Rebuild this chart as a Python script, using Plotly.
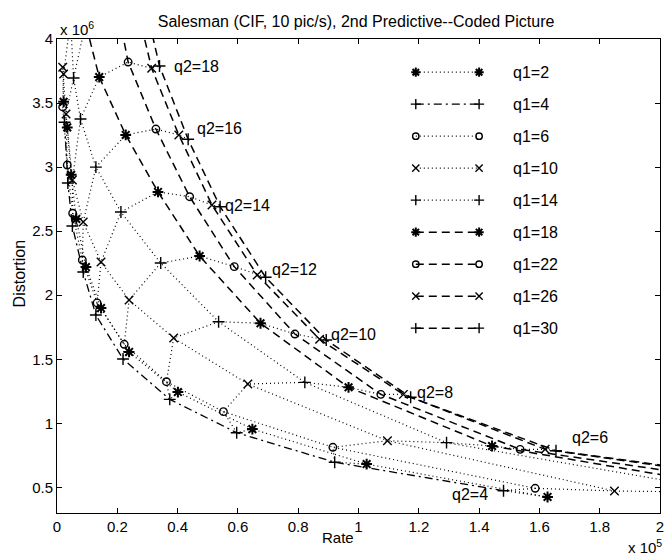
import plotly.graph_objects as go

# ---------------- data (Rate in units of 1e5, Distortion in units of 1e6) ----------------
q2_values = [4, 6, 8, 10, 12, 14, 16, 18, 20, 22, 24]
q1_values = [2, 4, 6, 10, 14, 18, 22, 26, 30]
q1_labels = ["q1=2", "q1=4", "q1=6", "q1=10", "q1=14", "q1=18", "q1=22", "q1=26", "q1=30"]

rate_q1_2 = [1.627, 1.027, 0.648, 0.401, 0.239, 0.146, 0.096, 0.064, 0.047, 0.034, 0.022]
dist_q1_2 = [0.425, 0.682, 0.955, 1.244, 1.557, 1.900, 2.220, 2.595, 2.940, 3.310, 3.510]

rate_q1_4 = [1.481, 0.921, 0.596, 0.374, 0.219, 0.129, 0.087, 0.051, 0.036, 0.025, None]
dist_q1_4 = [0.474, 0.696, 0.927, 1.187, 1.502, 1.845, 2.181, 2.540, 2.876, 3.350, None]

rate_q1_6 = [1.586, 0.915, 0.552, 0.363, 0.223, 0.133, 0.084, 0.052, 0.034, 0.019, None]
dist_q1_6 = [0.493, 0.813, 1.091, 1.325, 1.617, 1.940, 2.275, 2.640, 3.016, 3.470, None]

rate_q1_10 = [1.849, 1.096, 0.633, 0.387, 0.239, 0.146, 0.087, 0.051, 0.030, 0.022, 0.019]
dist_q1_10 = [0.472, 0.864, 1.307, 1.666, 1.963, 2.259, 2.571, 2.900, 3.414, 3.727, 3.780]

rate_q1_14 = [2.250, 1.292, 0.822, 0.536, 0.344, 0.212, 0.129, 0.078, 0.055, 0.045, None]
dist_q1_14 = [0.460, 0.849, 1.320, 1.793, 2.251, 2.649, 3.000, 3.375, 3.696, 4.150, None]

rate_q1_18 = [2.400, 1.443, 0.967, 0.675, 0.473, 0.335, 0.228, 0.140, 0.095, None, None]
dist_q1_18 = [0.440, 0.823, 1.281, 1.781, 2.306, 2.806, 3.251, 3.703, 4.120, None, None]

rate_q1_22 = [2.550, 1.536, 1.074, 0.789, 0.588, 0.440, 0.328, 0.236, 0.200, None, None]
dist_q1_22 = [0.450, 0.797, 1.226, 1.697, 2.223, 2.769, 3.297, 3.820, 4.250, None, None]

rate_q1_26 = [2.650, 1.619, 1.149, 0.871, 0.664, 0.514, 0.404, 0.314, 0.260, None, None]
dist_q1_26 = [0.450, 0.797, 1.226, 1.656, 2.158, 2.704, 3.251, 3.771, 4.300, None, None]

rate_q1_30 = [2.700, 1.655, 1.173, 0.893, 0.692, 0.541, 0.435, 0.340, 0.290, None, None]
dist_q1_30 = [0.450, 0.786, 1.203, 1.650, 2.140, 2.691, 3.217, 3.789, 4.300, None, None]

rates = [rate_q1_2, rate_q1_4, rate_q1_6, rate_q1_10, rate_q1_14,
         rate_q1_18, rate_q1_22, rate_q1_26, rate_q1_30]
dists = [dist_q1_2, dist_q1_4, dist_q1_6, dist_q1_10, dist_q1_14,
         dist_q1_18, dist_q1_22, dist_q1_26, dist_q1_30]

# q2 curve labels
q2_label_text = ["q2=4", "q2=6", "q2=8", "q2=10", "q2=12", "q2=14", "q2=16", "q2=18"]
q2_label_x = [1.304, 1.703, 1.189, 0.902, 0.707, 0.552, 0.457, 0.381]
q2_label_y = [0.448, 0.893, 1.244, 1.697, 2.204, 2.704, 3.305, 3.789]

x_ticks = [0, 0.2, 0.4, 0.6, 0.8, 1, 1.2, 1.4, 1.6, 1.8, 2]
x_ticktext = ["0", "0.2", "0.4", "0.6", "0.8", "1", "1.2", "1.4", "1.6", "1.8", "2"]
y_ticks = [0.5, 1, 1.5, 2, 2.5, 3, 3.5, 4]
y_ticktext = ["0.5", "1", "1.5", "2", "2.5", "3", "3.5", "4"]

# ---------------- styles ----------------
DOT = "1px,3px"
DASH = "8px,5px"
DASHDOT = "8px,4px,2px,4px"
symbols = ["asterisk-open", "cross-thin-open", "circle-open", "x-thin-open", "cross-thin-open",
           "asterisk-open", "circle-open", "x-thin-open", "cross-thin-open"]
dashes = [DOT, DASHDOT, DOT, DOT, DOT, DASH, DASH, DASH, DASH]
line_widths = [1.2, 1.3, 1.2, 1.2, 1.2, 1.5, 1.5, 1.5, 1.5]

FONT = "Liberation Sans, Arial, Helvetica, sans-serif"
FS = 16
FS_TICK = 15

def marker_style(sym, scale=1.0):
    size = {"asterisk-open": 9, "cross-thin-open": 8.5, "circle-open": 7.5, "x-thin-open": 8.5}[sym]
    lw = 2.0 if sym == "asterisk-open" else 1.4
    return dict(symbol=sym, size=size * scale, color="black", line=dict(color="black", width=lw))

fig = go.Figure()

# iso-q2 dotted arcs (connect same q2 across q1)
for j, q2 in enumerate(q2_values):
    xs, ys = [], []
    for r, d in zip(rates, dists):
        if r[j] is not None and d[j] is not None:
            xs.append(r[j])
            ys.append(d[j])
    if len(xs) > 1:
        fig.add_trace(go.Scatter(x=xs, y=ys, mode="lines", showlegend=False, hoverinfo="skip",
                                 line=dict(color="black", width=1.2, dash=DOT)))

# q1 curves
for i, lab in enumerate(q1_labels):
    fig.add_trace(go.Scatter(
        x=rates[i], y=dists[i], mode="lines+markers", name=lab, showlegend=False,
        line=dict(color="black", width=line_widths[i], dash=dashes[i]),
        marker=marker_style(symbols[i]),
    ))

# custom legend (two markers per sample line, like the original)
leg_x0, leg_x1, leg_tx = 0.595, 0.700, 0.753
leg_top, leg_step = 0.930, 0.0675
for i, lab in enumerate(q1_labels):
    yy = leg_top - i * leg_step
    fig.add_trace(go.Scatter(
        x=[leg_x0, leg_x1], y=[yy, yy], xaxis="x2", yaxis="y2", mode="lines+markers",
        showlegend=False, hoverinfo="skip",
        line=dict(color="black", width=line_widths[i], dash=dashes[i]),
        marker=marker_style(symbols[i], 0.85),
    ))
    fig.add_annotation(x=leg_tx, y=yy, xref="paper", yref="paper", text=lab, showarrow=False,
                       xanchor="left", yanchor="middle", font=dict(size=FS, color="black", family=FONT))

# q2 labels
for t, lx, ly in zip(q2_label_text, q2_label_x, q2_label_y):
    fig.add_annotation(x=lx, y=ly, xref="x", yref="y", text=t, showarrow=False,
                       xanchor="left", yanchor="middle", font=dict(size=FS, color="black", family=FONT))

# axis titles and exponent labels
fig.add_annotation(x=0.4662, y=-0.0527, xref="paper", yref="paper", text="Rate", showarrow=False,
                   xanchor="center", yanchor="middle", font=dict(size=FS_TICK, color="black", family=FONT))
fig.add_annotation(x=-0.0626, y=0.506, xref="paper", yref="paper", text="Distortion", showarrow=False,
                   textangle=-90, xanchor="center", yanchor="middle",
                   font=dict(size=FS, color="black", family=FONT))
fig.add_annotation(x=0.0016, y=1.023, xref="paper", yref="paper", text="x 10<sup>6</sup>",
                   showarrow=False, xanchor="left", yanchor="middle",
                   font=dict(size=FS_TICK, color="black", family=FONT))
fig.add_annotation(x=0.944, y=-0.0717, xref="paper", yref="paper", text="x 10<sup>5</sup>",
                   showarrow=False, xanchor="left", yanchor="middle",
                   font=dict(size=FS_TICK, color="black", family=FONT))

axis_common = dict(showline=True, linecolor="black", linewidth=1, mirror="ticks", ticks="inside",
                   ticklen=5, tickcolor="black", showgrid=False, zeroline=False,
                   ticklabeloverflow="allow",
                   tickfont=dict(size=FS_TICK, color="black", family=FONT))

fig.update_layout(
    width=668, height=557,
    margin=dict(l=57, r=4, t=39, b=44),
    paper_bgcolor="white", plot_bgcolor="white",
    font=dict(family=FONT, size=FS, color="black"),
    title=dict(text="Salesman (CIF, 10 pic/s), 2nd Predictive--Coded Picture",
               x=0.496, xref="paper", xanchor="center", y=1 - 21 / 557, yanchor="middle",
               font=dict(size=FS, color="black", family=FONT)),
    xaxis=dict(range=[0, 2], tickvals=x_ticks, ticktext=x_ticktext, **axis_common),
    yaxis=dict(range=[0.3, 4], tickvals=y_ticks, ticktext=y_ticktext, **axis_common),
    xaxis2=dict(range=[0, 1], overlaying="x", visible=False),
    yaxis2=dict(range=[0, 1], overlaying="y", visible=False),
    showlegend=False,
)

fig.write_html("out.html", config={"displayModeBar": False},
               post_script="document.body.style.margin='0px';document.body.style.padding='0px';")
